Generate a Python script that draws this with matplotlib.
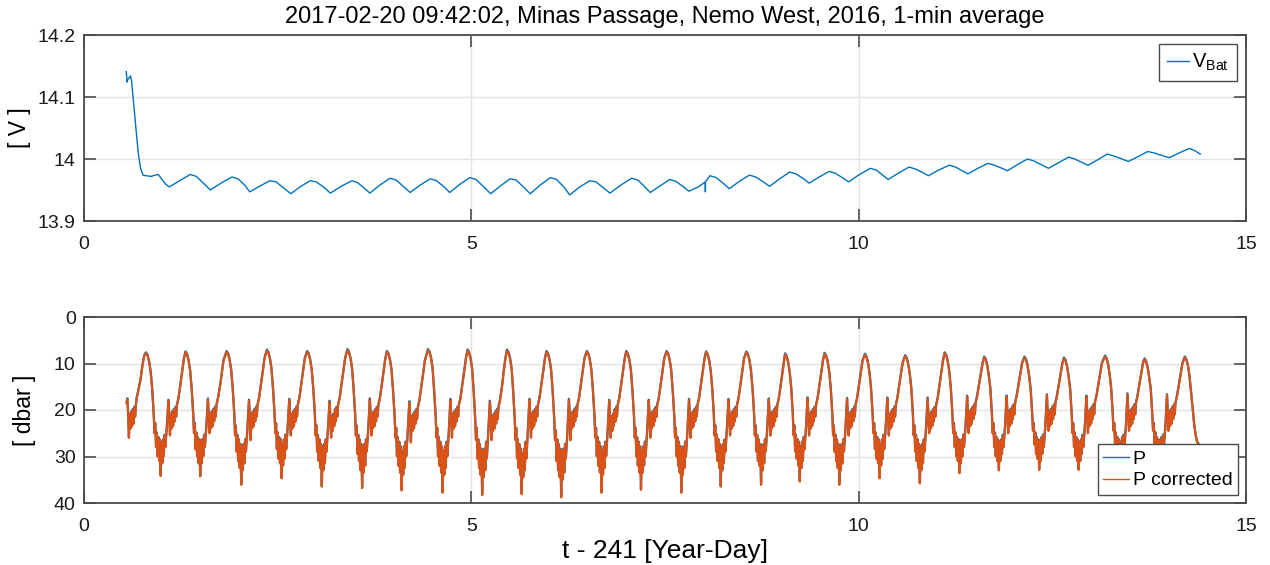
import matplotlib
matplotlib.use("Agg")
import matplotlib.pyplot as plt
import numpy as np

plt.rcParams['font.family'] = ['Liberation Sans', 'DejaVu Sans']

title = "2017-02-20 09:42:02, Minas Passage, Nemo West, 2016, 1-min average"
xlabel = "t - 241 [Year-Day]"
x_ticks = [0, 5, 10, 15]
v_ticks = [13.9, 14.0, 14.1, 14.2]
v_ticklabels = ["13.9", "14", "14.1", "14.2"]
p_ticks = [0, 10, 20, 30, 40]

# Battery voltage
V_t = [0.546, 0.556, 0.565, 0.60, 0.615, 0.64, 0.67, 0.70, 0.73, 0.76, 0.80, 0.87, 0.92, 0.96, 1.00, 1.05, 1.10,
       1.25, 1.37, 1.45, 1.55, 1.63,
       1.78, 1.91, 1.99, 2.08, 2.14,
       2.28, 2.40, 2.48, 2.58, 2.67,
       2.80, 2.92, 3.00, 3.10, 3.18,
       3.32, 3.46, 3.53, 3.62, 3.69,
       3.82, 3.95, 4.03, 4.13, 4.21,
       4.34, 4.47, 4.55, 4.65, 4.72,
       4.85, 4.98, 5.06, 5.16, 5.25,
       5.38, 5.50, 5.58, 5.68, 5.76,
       5.89, 6.02, 6.10, 6.20, 6.27,
       6.40, 6.53, 6.61, 6.71, 6.79,
       6.93, 7.07, 7.15, 7.24, 7.31,
       7.44, 7.56, 7.64, 7.74, 7.81,
       7.93, 8.02, 8.021, 8.022, 8.08, 8.16, 8.26, 8.33,
       8.46, 8.59, 8.67, 8.77, 8.85,
       8.98, 9.11, 9.19, 9.29, 9.36,
       9.49, 9.62, 9.70, 9.80, 9.87,
       10.01, 10.15, 10.23, 10.32, 10.38,
       10.51, 10.65, 10.73, 10.83, 10.90,
       11.03, 11.17, 11.25, 11.35, 11.41,
       11.54, 11.67, 11.75, 11.85, 11.92,
       12.05, 12.18, 12.26, 12.37, 12.45,
       12.58, 12.71, 12.79, 12.89, 12.96,
       13.09, 13.21, 13.29, 13.40, 13.48,
       13.61, 13.73, 13.81, 13.93, 14.01,
       14.14, 14.27, 14.33, 14.41]
V_bat = [14.141, 14.124, 14.128, 14.134, 14.125, 14.09, 14.05, 14.01, 13.985, 13.974, 13.973, 13.972, 13.974, 13.975, 13.968, 13.960, 13.955,
         13.966, 13.975, 13.972, 13.960, 13.950,
         13.962, 13.971, 13.968, 13.957, 13.947,
         13.957, 13.965, 13.963, 13.953, 13.944,
         13.956, 13.965, 13.963, 13.954, 13.945,
         13.956, 13.965, 13.962, 13.953, 13.945,
         13.958, 13.969, 13.966, 13.955, 13.946,
         13.958, 13.968, 13.965, 13.955, 13.946,
         13.959, 13.970, 13.967, 13.955, 13.944,
         13.957, 13.968, 13.966, 13.954, 13.944,
         13.958, 13.970, 13.967, 13.954, 13.942,
         13.955, 13.965, 13.963, 13.953, 13.945,
         13.958, 13.969, 13.966, 13.955, 13.946,
         13.957, 13.967, 13.964, 13.955, 13.948,
         13.955, 13.963, 13.947, 13.963, 13.973, 13.970, 13.960, 13.952,
         13.964, 13.974, 13.971, 13.963, 13.956,
         13.968, 13.979, 13.976, 13.968, 13.961,
         13.971, 13.980, 13.977, 13.969, 13.963,
         13.975, 13.985, 13.982, 13.973, 13.967,
         13.977, 13.987, 13.984, 13.978, 13.973,
         13.982, 13.990, 13.987, 13.980, 13.976,
         13.985, 13.993, 13.990, 13.985, 13.981,
         13.991, 14.000, 13.997, 13.990, 13.985,
         13.994, 14.003, 14.000, 13.994, 13.990,
         13.999, 14.008, 14.005, 14.000, 13.996,
         14.004, 14.012, 14.010, 14.005, 14.002,
         14.010, 14.017, 14.014, 14.008]

# Pressure, corrected (1-min noise shown as estimated spread), one line per tidal cycle
P_t = [
    0.55, 0.56, 0.57, 0.58, 0.59, 0.60, 0.61, 0.62, 0.63, 0.64, 0.65, 0.66, 0.67, 0.68, 0.70, 0.73, 0.75, 0.77, 0.78,
    0.80, 0.82, 0.84, 0.86, 0.88, 0.90, 0.91, 0.92, 0.93, 0.94, 0.95, 0.96, 0.97, 0.98, 0.99, 1.00, 1.01, 1.02, 1.03, 1.04, 1.05, 1.07, 1.09, 1.10, 1.11, 1.12, 1.13, 1.14, 1.15, 1.16, 1.17, 1.18, 1.19, 1.20, 1.22, 1.25, 1.27, 1.29,
    1.31, 1.33, 1.35, 1.37, 1.39, 1.41, 1.42, 1.43, 1.44, 1.45, 1.46, 1.47, 1.48, 1.49, 1.50, 1.51, 1.52, 1.53, 1.54, 1.55, 1.56, 1.58, 1.60, 1.61, 1.62, 1.63, 1.64, 1.65, 1.66, 1.67, 1.68, 1.69, 1.70, 1.71, 1.73, 1.76, 1.78, 1.80,
    1.84, 1.86, 1.88, 1.90, 1.92, 1.94, 1.95, 1.96, 1.97, 1.98, 1.99, 2.00, 2.01, 2.02, 2.03, 2.04, 2.05, 2.06, 2.07, 2.08, 2.09, 2.11, 2.13, 2.14, 2.15, 2.16, 2.17, 2.18, 2.19, 2.20, 2.21, 2.22, 2.23, 2.24, 2.26, 2.29, 2.31, 2.33,
    2.36, 2.38, 2.40, 2.42, 2.44, 2.46, 2.47, 2.48, 2.49, 2.50, 2.51, 2.52, 2.53, 2.54, 2.55, 2.56, 2.57, 2.58, 2.59, 2.60, 2.61, 2.63, 2.65, 2.66, 2.67, 2.68, 2.69, 2.70, 2.71, 2.72, 2.73, 2.74, 2.75, 2.76, 2.78, 2.81, 2.83, 2.85,
    2.88, 2.90, 2.92, 2.94, 2.96, 2.98, 2.99, 3.00, 3.01, 3.02, 3.03, 3.04, 3.05, 3.06, 3.07, 3.08, 3.09, 3.10, 3.11, 3.12, 3.13, 3.15, 3.17, 3.18, 3.19, 3.20, 3.21, 3.22, 3.23, 3.24, 3.25, 3.26, 3.27, 3.28, 3.30, 3.33, 3.35, 3.37,
    3.40, 3.42, 3.44, 3.46, 3.48, 3.50, 3.51, 3.52, 3.53, 3.54, 3.55, 3.56, 3.57, 3.58, 3.59, 3.60, 3.61, 3.62, 3.63, 3.64, 3.65, 3.67, 3.69, 3.70, 3.71, 3.72, 3.73, 3.74, 3.75, 3.76, 3.77, 3.78, 3.79, 3.80, 3.82, 3.85, 3.87, 3.89,
    3.91, 3.93, 3.95, 3.97, 3.99, 4.01, 4.02, 4.03, 4.04, 4.05, 4.06, 4.07, 4.08, 4.09, 4.10, 4.11, 4.12, 4.13, 4.14, 4.15, 4.16, 4.18, 4.20, 4.21, 4.22, 4.23, 4.24, 4.25, 4.26, 4.27, 4.28, 4.29, 4.30, 4.31, 4.33, 4.36, 4.38, 4.40,
    4.44, 4.46, 4.48, 4.50, 4.52, 4.54, 4.55, 4.56, 4.57, 4.58, 4.59, 4.60, 4.61, 4.62, 4.63, 4.64, 4.65, 4.66, 4.67, 4.68, 4.69, 4.71, 4.73, 4.74, 4.75, 4.76, 4.77, 4.78, 4.79, 4.80, 4.81, 4.82, 4.83, 4.84, 4.86, 4.89, 4.91, 4.93,
    4.95, 4.97, 4.99, 5.01, 5.03, 5.05, 5.06, 5.07, 5.08, 5.09, 5.10, 5.11, 5.12, 5.13, 5.14, 5.15, 5.16, 5.17, 5.18, 5.19, 5.20, 5.22, 5.24, 5.25, 5.26, 5.27, 5.28, 5.29, 5.30, 5.31, 5.32, 5.33, 5.34, 5.35, 5.37, 5.40, 5.42, 5.44,
    5.46, 5.48, 5.50, 5.52, 5.54, 5.56, 5.57, 5.58, 5.59, 5.60, 5.61, 5.62, 5.63, 5.64, 5.65, 5.66, 5.67, 5.68, 5.69, 5.70, 5.71, 5.73, 5.75, 5.76, 5.77, 5.78, 5.79, 5.80, 5.81, 5.82, 5.83, 5.84, 5.85, 5.86, 5.88, 5.91, 5.93, 5.95,
    5.97, 5.99, 6.01, 6.03, 6.05, 6.07, 6.08, 6.09, 6.10, 6.11, 6.12, 6.13, 6.14, 6.15, 6.16, 6.17, 6.18, 6.19, 6.20, 6.21, 6.22, 6.24, 6.26, 6.27, 6.28, 6.29, 6.30, 6.31, 6.32, 6.33, 6.34, 6.35, 6.36, 6.37, 6.39, 6.42, 6.44, 6.46,
    6.49, 6.51, 6.53, 6.55, 6.57, 6.59, 6.60, 6.61, 6.62, 6.63, 6.64, 6.65, 6.66, 6.67, 6.68, 6.69, 6.70, 6.71, 6.72, 6.73, 6.74, 6.76, 6.78, 6.79, 6.80, 6.81, 6.82, 6.83, 6.84, 6.85, 6.86, 6.87, 6.88, 6.89, 6.91, 6.94, 6.96, 6.98,
    7.00, 7.02, 7.04, 7.06, 7.08, 7.10, 7.11, 7.12, 7.13, 7.14, 7.15, 7.16, 7.17, 7.18, 7.19, 7.20, 7.21, 7.22, 7.23, 7.24, 7.25, 7.27, 7.29, 7.30, 7.31, 7.32, 7.33, 7.34, 7.35, 7.36, 7.37, 7.38, 7.39, 7.40, 7.42, 7.45, 7.47, 7.49,
    7.52, 7.54, 7.56, 7.58, 7.60, 7.62, 7.63, 7.64, 7.65, 7.66, 7.67, 7.68, 7.69, 7.70, 7.71, 7.72, 7.73, 7.74, 7.75, 7.76, 7.77, 7.79, 7.81, 7.82, 7.83, 7.84, 7.85, 7.86, 7.87, 7.88, 7.89, 7.90, 7.91, 7.92, 7.94, 7.97, 7.99, 8.01,
    8.03, 8.05, 8.07, 8.09, 8.11, 8.13, 8.14, 8.15, 8.16, 8.17, 8.18, 8.19, 8.20, 8.21, 8.22, 8.23, 8.24, 8.25, 8.26, 8.27, 8.28, 8.30, 8.32, 8.33, 8.34, 8.35, 8.36, 8.37, 8.38, 8.39, 8.40, 8.41, 8.42, 8.43, 8.45, 8.48, 8.50, 8.52,
    8.55, 8.57, 8.59, 8.61, 8.63, 8.65, 8.66, 8.67, 8.68, 8.69, 8.70, 8.71, 8.72, 8.73, 8.74, 8.75, 8.76, 8.77, 8.78, 8.79, 8.80, 8.82, 8.84, 8.85, 8.86, 8.87, 8.88, 8.89, 8.90, 8.91, 8.92, 8.93, 8.94, 8.95, 8.97, 9.00, 9.02, 9.04,
    9.05, 9.07, 9.09, 9.11, 9.13, 9.15, 9.16, 9.17, 9.18, 9.19, 9.20, 9.21, 9.22, 9.23, 9.24, 9.25, 9.26, 9.27, 9.28, 9.29, 9.30, 9.32, 9.34, 9.35, 9.36, 9.37, 9.38, 9.39, 9.40, 9.41, 9.42, 9.43, 9.44, 9.45, 9.47, 9.50, 9.52, 9.54,
    9.56, 9.58, 9.60, 9.62, 9.64, 9.66, 9.67, 9.68, 9.69, 9.70, 9.71, 9.72, 9.73, 9.74, 9.75, 9.76, 9.77, 9.78, 9.79, 9.80, 9.81, 9.83, 9.85, 9.86, 9.87, 9.88, 9.89, 9.90, 9.91, 9.92, 9.93, 9.94, 9.95, 9.96, 9.98, 10.01, 10.03, 10.05,
    10.08, 10.10, 10.12, 10.14, 10.16, 10.18, 10.19, 10.20, 10.21, 10.22, 10.23, 10.24, 10.25, 10.26, 10.27, 10.28, 10.29, 10.30, 10.31, 10.32, 10.33, 10.35, 10.37, 10.38, 10.39, 10.40, 10.41, 10.42, 10.43, 10.44, 10.45, 10.46, 10.47, 10.48, 10.50, 10.53, 10.55, 10.57,
    10.60, 10.62, 10.64, 10.66, 10.68, 10.70, 10.71, 10.72, 10.73, 10.74, 10.75, 10.76, 10.77, 10.78, 10.79, 10.80, 10.81, 10.82, 10.83, 10.84, 10.85, 10.87, 10.89, 10.90, 10.91, 10.92, 10.93, 10.94, 10.95, 10.96, 10.97, 10.98, 10.99, 11.00, 11.02, 11.05, 11.07, 11.09,
    11.11, 11.13, 11.15, 11.17, 11.19, 11.21, 11.22, 11.23, 11.24, 11.25, 11.26, 11.27, 11.28, 11.29, 11.30, 11.31, 11.32, 11.33, 11.34, 11.35, 11.36, 11.38, 11.40, 11.41, 11.42, 11.43, 11.44, 11.45, 11.46, 11.47, 11.48, 11.49, 11.50, 11.51, 11.53, 11.56, 11.58, 11.60,
    11.62, 11.64, 11.66, 11.68, 11.70, 11.72, 11.73, 11.74, 11.75, 11.76, 11.77, 11.78, 11.79, 11.80, 11.81, 11.82, 11.83, 11.84, 11.85, 11.86, 11.87, 11.89, 11.91, 11.92, 11.93, 11.94, 11.95, 11.96, 11.97, 11.98, 11.99, 12.00, 12.01, 12.02, 12.04, 12.07, 12.09, 12.11,
    12.14, 12.16, 12.18, 12.20, 12.22, 12.24, 12.25, 12.26, 12.27, 12.28, 12.29, 12.30, 12.31, 12.32, 12.33, 12.34, 12.35, 12.36, 12.37, 12.38, 12.39, 12.41, 12.43, 12.44, 12.45, 12.46, 12.47, 12.48, 12.49, 12.50, 12.51, 12.52, 12.53, 12.54, 12.56, 12.59, 12.61, 12.63,
    12.65, 12.67, 12.69, 12.71, 12.73, 12.75, 12.76, 12.77, 12.78, 12.79, 12.80, 12.81, 12.82, 12.83, 12.84, 12.85, 12.86, 12.87, 12.88, 12.89, 12.90, 12.92, 12.94, 12.95, 12.96, 12.97, 12.98, 12.99, 13.00, 13.01, 13.02, 13.03, 13.04, 13.05, 13.07, 13.10, 13.12, 13.14,
    13.18, 13.20, 13.22, 13.24, 13.26, 13.28, 13.29, 13.30, 13.31, 13.32, 13.33, 13.34, 13.35, 13.36, 13.37, 13.38, 13.39, 13.40, 13.41, 13.42, 13.43, 13.45, 13.47, 13.48, 13.49, 13.50, 13.51, 13.52, 13.53, 13.54, 13.55, 13.56, 13.57, 13.58, 13.60, 13.63, 13.65, 13.67,
    13.69, 13.71, 13.73, 13.75, 13.77, 13.79, 13.80, 13.81, 13.82, 13.83, 13.84, 13.85, 13.86, 13.87, 13.88, 13.89, 13.90, 13.91, 13.92, 13.93, 13.94, 13.96, 13.98, 13.99, 14.00, 14.01, 14.02, 14.03, 14.04, 14.05, 14.06, 14.07, 14.08, 14.09, 14.11, 14.14, 14.16, 14.18,
    14.21, 14.23, 14.25, 14.27, 14.29, 14.31, 14.33, 14.35, 14.37, 14.39, 14.41,
]
P_corr = [
    18.5, 17.7, 21, 26, 21, 24, 20.5, 23.5, 20, 23, 19.5, 21.5, 19, 17.5, 16, 13.5, 11, 9, 8.3,
    7.8, 8.3, 9.6, 11.8, 15.5, 21, 25, 23, 28, 25, 30, 26, 31, 26.5, 34.2, 27, 31.5, 26.5, 30, 25.5, 28, 23.5, 18.0, 21, 25.5, 21, 24, 20.5, 23.5, 20, 22.5, 19.5, 21.5, 19, 17.5, 14, 11.5, 9,
    7.6, 8.1, 9.4, 11.6, 15.5, 21, 25, 23, 28.5, 25, 30, 26, 31.5, 26.5, 34.3, 27, 31.5, 26.5, 30, 25.5, 28, 23.5, 17.7, 21, 25, 21, 24, 20.5, 23.5, 20, 22.5, 19.5, 21.5, 19, 17.5, 14.5, 12, 9.5,
    7.5, 8.0, 9.3, 11.5, 15.5, 21, 25.5, 23.5, 29, 25.5, 31, 26.5, 32.5, 27.5, 36.1, 28, 33, 27.5, 31.5, 26.5, 29, 24, 18.0, 21, 26.5, 21, 24, 20.5, 23.5, 20, 22.5, 19.5, 21.5, 19, 17.5, 14, 11.5, 9,
    7.2, 7.7, 9.0, 11.2, 15.5, 21, 25, 23, 28.5, 25, 30.5, 26, 31.5, 26.5, 34.7, 27.5, 32, 26.5, 30.5, 25.5, 28.5, 23.5, 17.8, 21, 25.5, 21, 24, 20.5, 23.5, 20, 22.5, 19.5, 21.5, 19, 17.5, 14, 11.5, 9,
    7.5, 8.0, 9.3, 11.5, 15.5, 21, 25.5, 23.5, 29, 25.5, 31, 26.5, 32.5, 27.5, 36.5, 28, 33, 27.5, 31.5, 26.5, 29, 24, 18.2, 21.5, 26, 21.5, 24.5, 21, 23.5, 20, 22.5, 19.5, 21.5, 19, 17.5, 14, 11.5, 9,
    7.1, 7.6, 8.9, 11.1, 15.5, 21, 25.5, 23.5, 29.5, 25.5, 31, 26.5, 33, 27.5, 36.8, 28.5, 33.5, 27.5, 32, 26.5, 29, 24, 17.7, 21, 25.5, 21, 24, 20.5, 23.5, 20, 22.5, 19.5, 21.5, 19, 17.5, 14, 11.5, 9,
    7.5, 8.0, 9.3, 11.5, 16, 21.5, 26, 24, 30, 26, 32, 27, 33.5, 28, 37.3, 29, 34, 28, 32.5, 27, 30, 24.5, 18.3, 21.5, 27, 21.5, 24.5, 21, 24, 20.5, 23, 20, 22, 19.5, 18, 14.5, 12, 9.5,
    7.1, 7.6, 8.9, 11.1, 16, 21.5, 26, 24, 30, 26, 32, 27, 33.5, 28, 37.8, 29, 34, 28, 32.5, 27, 30, 24.5, 17.8, 21, 26, 21, 24, 20.5, 23.5, 20, 22.5, 19.5, 21.5, 19, 17.5, 14, 11.5, 9,
    7.2, 7.7, 9.0, 11.2, 16, 22, 26.5, 24, 30.5, 26.5, 32.5, 27.5, 34, 28.5, 38.3, 29.5, 34.5, 28.5, 33, 27, 30.5, 24.5, 18.2, 21.5, 26.5, 21.5, 24.5, 21, 24, 20.5, 23, 20, 22, 19.5, 18, 14.5, 11.5, 9,
    7.2, 7.7, 9.0, 11.2, 16, 22, 26.5, 24, 30.5, 26.5, 32.5, 27.5, 34, 28.5, 38.1, 29.5, 34.5, 28.5, 33, 27, 30.5, 24.5, 17.8, 21, 26, 21, 24, 20.5, 23.5, 20, 22.5, 19.5, 21.5, 19, 17.5, 14, 11.5, 9,
    7.5, 8.0, 9.3, 11.5, 16, 22, 26.5, 24.5, 31, 26.5, 33, 27.5, 34.5, 28.5, 38.8, 29.5, 35, 28.5, 33.5, 27.5, 30.5, 25, 17.8, 21, 26.5, 21, 24, 20.5, 23.5, 20, 22.5, 19.5, 21.5, 19, 17.5, 14, 11.5, 9,
    7.5, 8.0, 9.3, 11.5, 16, 21.5, 26, 24, 30, 26, 32, 27, 33.5, 28, 37.8, 29, 34, 28, 32.5, 27, 30, 24.5, 18.0, 21.5, 26, 21.5, 24.5, 21, 23.5, 20, 22.5, 19.5, 21.5, 19, 17.5, 14, 11.5, 9,
    7.5, 8.0, 9.3, 11.5, 16, 21.5, 26, 24, 30, 26, 32, 27, 33.5, 28, 37.2, 29, 33.5, 28, 32, 27, 30, 24.5, 18.0, 21, 26, 21, 24, 20.5, 23.5, 20, 22.5, 19.5, 21.5, 19, 17.5, 14, 11.5, 9,
    7.5, 8.0, 9.3, 11.5, 16, 21.5, 26, 24, 30, 26, 32, 27, 33.5, 28, 37.8, 29, 34, 28, 32.5, 27, 30, 24.5, 17.8, 21, 26, 21, 24, 20.5, 23.5, 20, 22.5, 19.5, 21.5, 19, 17.5, 14, 11.5, 9,
    7.6, 8.1, 9.4, 11.6, 15.5, 21, 25.5, 23.5, 29, 25.5, 31, 26.5, 32.5, 27.5, 36.5, 28, 33, 27.5, 31.5, 26.5, 29, 24, 17.8, 21, 25.5, 21, 24, 20.5, 23.5, 20, 22.5, 19.5, 21.5, 19, 17.5, 14, 11.5, 9,
    7.6, 8.1, 9.4, 11.6, 15.5, 21, 25.5, 23.5, 29, 25.5, 31, 26.5, 32, 27.5, 36.1, 28, 33, 27.5, 31.5, 26.5, 29, 24, 17.7, 21, 25.5, 21, 24, 20.5, 23.5, 20, 22.5, 19.5, 21.5, 19, 17.5, 14, 11.5, 9.2,
    8.0, 8.5, 9.8, 12, 15.5, 21, 25.5, 23.5, 29, 25.5, 30.5, 26.5, 32, 27, 35.4, 28, 32.5, 27, 31, 26, 28.5, 24, 17.5, 21, 25.5, 21, 24, 20.5, 23.5, 20, 22.5, 19.5, 21.5, 19, 17.5, 14, 11.5, 9.4,
    7.9, 8.4, 9.7, 11.9, 15.5, 21, 25.5, 23.5, 29, 25.5, 31, 26.5, 32.5, 27.5, 36.1, 28, 33, 27.5, 31.5, 26.5, 29, 24, 17.6, 21, 25.5, 21, 24, 20.5, 23.5, 20, 22.5, 19.5, 21.5, 19, 17.5, 14, 11.5, 9.5,
    8.1, 8.6, 9.9, 12.1, 15.5, 21, 25, 23, 28.5, 25, 30.5, 26, 31.5, 26.5, 34.7, 27.5, 32, 26.5, 30.5, 25.5, 28.5, 23.5, 17.5, 21, 25.5, 21, 24, 20.5, 23.5, 20, 22.5, 19.5, 21.5, 19, 17.5, 14, 11.8, 9.8,
    8.4, 8.9, 10.2, 12.4, 15.5, 21, 25.5, 23.5, 29, 25.5, 31, 26.5, 32.5, 27.5, 35.8, 28, 33, 27.5, 31.5, 26.5, 29, 24, 17.5, 21, 25, 21, 24, 20.5, 23.5, 20, 22.5, 19.5, 21.5, 19, 17.5, 14, 11.5, 9.3,
    7.8, 8.3, 9.6, 11.8, 15.5, 21, 25, 23, 28, 25, 30, 26, 31, 26.5, 33.6, 27, 31.5, 26.5, 30, 25.5, 28, 23.5, 17.1, 20.5, 25, 20.5, 23.5, 20, 23, 19.5, 22, 19, 21, 18.5, 17, 14, 12, 10,
    8.7, 9.2, 10.5, 12.7, 15.5, 21, 25, 23, 28, 25, 30, 26, 31, 26.5, 33.0, 27, 31, 26.5, 29.5, 25.5, 28, 23.5, 17.1, 20.5, 25, 20.5, 23.5, 20, 23, 19.5, 22, 19, 21, 18.5, 17, 14, 12, 10,
    8.7, 9.2, 10.5, 12.7, 15.5, 21, 24.5, 23, 27.5, 25, 29.5, 26, 30.5, 26.5, 32.9, 27, 31, 26, 29.5, 25.5, 28, 23.5, 16.8, 20.5, 24.5, 20.5, 23.5, 20, 23, 19.5, 22, 19, 21, 18.5, 17, 14, 12, 10,
    8.9, 9.4, 10.7, 12.9, 15.5, 21, 25, 23, 28, 25, 30, 26, 31, 26.5, 32.9, 27, 31, 26.5, 29.5, 25.5, 28, 23.5, 17.1, 20.5, 25, 20.5, 23.5, 20, 23, 19.5, 22, 19, 21, 18.5, 17, 14, 12, 10,
    8.5, 9.0, 10.3, 12.5, 15.5, 21, 24.5, 23, 27.5, 25, 29.5, 26, 30.5, 26.5, 32.5, 27, 30.5, 26, 29.5, 25.5, 28, 23.5, 16.6, 20.5, 24.5, 20.5, 23.5, 20, 23, 19.5, 22, 19, 21, 18.5, 17, 14, 12, 10,
    9.1, 9.6, 10.9, 13.1, 15.5, 21, 24.5, 23, 27.5, 25, 29.5, 26, 30.5, 26.5, 32.5, 27, 30.5, 26, 29.5, 25.5, 28, 23.5, 16.8, 20.5, 24.5, 20.5, 23.5, 20, 23, 19.5, 22, 19, 21, 18.5, 17, 14, 12, 10,
    8.7, 9.2, 10.5, 12.7, 16, 19.5, 23, 25.5, 27, 27.5, 28,
]
P_atm_offset = 0.2  # raw P sits slightly above the corrected trace

C_BLUE = "#0072BD"
C_ORANGE = "#D95319"
SPINE_COL = "#4a4a4a"
TICK_COL = "#5a5a5a"
GRID_COL = "#e3e3e3"

fig = plt.figure(figsize=(12.7, 5.65), dpi=100)
ax1 = fig.add_axes([84/1270, 1 - 221/565, 1162/1270, 186/565])
ax2 = fig.add_axes([84/1270, 1 - 503/565, 1162/1270, 186/565])

def style(ax):
    ax.set_xlim(0, 15)
    ax.set_xticks(x_ticks)
    ax.grid(True, color=GRID_COL, linewidth=1.0)
    ax.set_axisbelow(True)
    for s in ax.spines.values():
        s.set_color(SPINE_COL)
        s.set_linewidth(1.3)
    ax.tick_params(direction='in', length=8.4, width=1.3, colors=TICK_COL,
                   labelcolor='#1a1a1a', labelsize=14, top=True, right=True)
    ax.tick_params(axis='x', pad=11)
    ax.tick_params(axis='y', pad=6)

ax1.plot(V_t, V_bat, color=C_BLUE, linewidth=1.0, label=r"V$_{\mathregular{Bat}}$")
ax1.set_ylim(13.9, 14.2)
ax1.set_yticks(v_ticks)
ax1.set_yticklabels(v_ticklabels)
style(ax1)
ax1.set_ylabel("[ V ]", fontsize=16.5)
ax1.yaxis.set_label_coords((31 - 84) / 1162, 0.5)
ax1.set_title(title, fontsize=17, pad=9)
leg1 = ax1.legend(loc='upper right', fontsize=14.5, frameon=True, fancybox=False,
                  handlelength=1.1, handletextpad=0.15, borderpad=0.4,
                  borderaxespad=0.45, framealpha=1)
leg1.get_frame().set_edgecolor(SPINE_COL)
leg1.get_frame().set_linewidth(1.0)

P_raw = np.array(P_corr) - P_atm_offset
ax2.plot(P_t, P_raw, color=C_BLUE, linewidth=1.6, label="P")
ax2.plot(P_t, P_corr, color=C_ORANGE, linewidth=1.6, label="P corrected")
ax2.set_ylim(40, 0)
ax2.set_yticks(p_ticks)
style(ax2)
ax2.set_ylabel("[ dbar ]", fontsize=16.5)
ax2.yaxis.set_label_coords((36 - 84) / 1162, 0.5)
ax2.set_xlabel(xlabel, fontsize=19, labelpad=3)
leg2 = ax2.legend(loc='lower right', fontsize=14, frameon=True, fancybox=False,
                  handlelength=1.3, handletextpad=0.2, borderpad=0.3,
                  borderaxespad=0.4, labelspacing=0.2, framealpha=1)
leg2.get_frame().set_edgecolor(SPINE_COL)
leg2.get_frame().set_linewidth(1.0)
for lh in leg2.get_lines():
    lh.set_linewidth(1.0)

fig.savefig("out.png", dpi=100)
